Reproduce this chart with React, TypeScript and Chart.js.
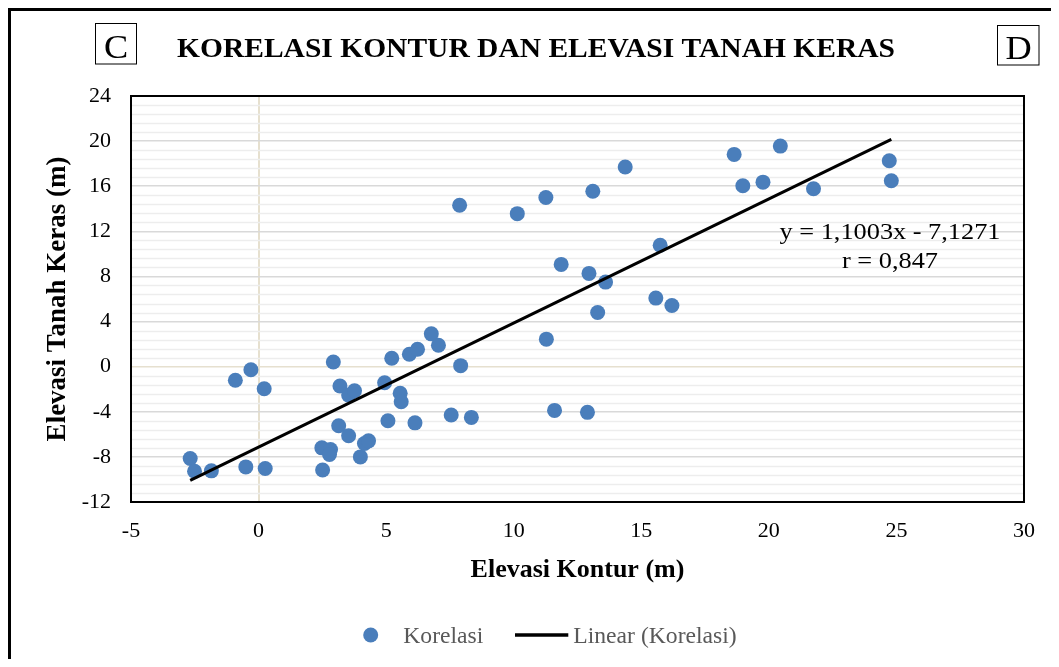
import React, { useEffect, useRef } from "react";
import { Chart, registerables } from "chart.js";

Chart.register(...registerables);

// ---- Data ----
const elevasiKontur = [
  -2.68, -2.51, -1.85, -0.91, -0.3, 0.22, -0.5, 0.26, 2.93, 3.19,
  3.53, 3.76, 3.14, 3.53, 2.48, 2.82, 2.78, 2.51, 4.15, 4.31,
  3.99, 4.94, 5.22, 5.55, 5.59, 5.07, 6.13, 5.91, 6.23, 6.77,
  7.05, 7.55, 8.34, 7.92, 7.88, 10.14, 11.26, 13.1, 14.37, 11.28,
  11.86, 12.95, 13.6, 13.29, 11.6, 12.89, 15.74, 15.57, 16.2, 18.64,
  20.45, 18.98, 19.77, 21.75, 24.72, 24.8,
];
const elevasiTanahKeras = [
  -8.14, -9.27, -9.24, -1.21, -0.27, -1.96, -8.89, -9.03, 0.42, -1.72,
  -2.52, -2.13, -5.24, -6.13, -7.2, -7.34, -7.79, -9.16, -6.81, -6.58,
  -8.0, -1.42, 0.75, -2.36, -3.11, -4.8, -4.98, 1.1, 1.55, 2.91,
  1.9, -4.29, -4.5, 0.09, 14.31, 13.57, 15.0, 15.56, 17.71, 2.44,
  9.07, 8.27, 7.5, 4.8, -3.88, -4.05, 10.77, 6.08, 5.42, 18.82,
  19.56, 16.04, 16.36, 15.77, 18.26, 16.48,
];

const xAxisRange = [-5, 30];
const xAxisStep = 5;
const yAxisRange = [-12, 24];
const yAxisStep = 4;
const yMinorStep = 0.8;

const trendSlope = 1.1003;
const trendIntercept = -7.1271;
const correlationR = 0.847;

const chartTitle = "KORELASI KONTUR DAN ELEVASI TANAH KERAS";
const panelLeft = "C";
const panelRight = "D";
const xAxisTitle = "Elevasi Kontur (m)";
const yAxisTitle = "Elevasi Tanah Keras (m)";
const seriesLabel = "Korelasi";
const trendLabel = "Linear (Korelasi)";

const SERIF = '"Liberation Serif", "Times New Roman", serif';
const POINT_COLOR = "#4a7ebb";
const ZERO_LINE = "#e6e0cf";

const fmt = (v: number, d: number) => v.toFixed(d).replace(".", ",");

function drawText(
  ctx: CanvasRenderingContext2D,
  text: string,
  x: number,
  baseline: number,
  font: string,
  color: string,
  align: CanvasTextAlign,
  targetWidth?: number,
  scaleX?: number
) {
  ctx.save();
  ctx.font = font;
  ctx.fillStyle = color;
  ctx.textBaseline = "alphabetic";
  ctx.textAlign = align;
  const w = ctx.measureText(text).width;
  const sx = targetWidth ? targetWidth / w : scaleX ?? 1;
  ctx.translate(x, baseline);
  ctx.scale(sx, 1);
  ctx.fillText(text, 0, 0);
  ctx.restore();
  return sx;
}

const decorPlugin = {
  id: "decor",
  beforeDatasetsDraw(chart: any) {
    const { ctx, chartArea } = chart;
    const yScale = chart.scales.y;
    ctx.save();
    ctx.strokeStyle = "#ededed";
    ctx.lineWidth = 1.5;
    const n = Math.round((yAxisRange[1] - yAxisRange[0]) / yMinorStep);
    for (let i = 1; i < n; i++) {
      const v = yAxisRange[0] + i * yMinorStep;
      if (Math.abs(v / yAxisStep - Math.round(v / yAxisStep)) < 1e-6) continue;
      const py = Math.round(yScale.getPixelForValue(v)) + 0.5;
      ctx.beginPath();
      ctx.moveTo(chartArea.left, py);
      ctx.lineTo(chartArea.right, py);
      ctx.stroke();
    }
    ctx.restore();
  },
  afterDraw(chart: any) {
    const { ctx, chartArea } = chart;
    // plot border
    ctx.save();
    ctx.strokeStyle = "#000";
    ctx.lineWidth = 2;
    ctx.strokeRect(
      chartArea.left,
      chartArea.top,
      chartArea.right - chartArea.left,
      chartArea.bottom - chartArea.top
    );
    ctx.restore();

    // title
    drawText(ctx, chartTitle, 525, 45.7, `bold 28px ${SERIF}`, "#000", "center", 718);

    // panel letters in boxes
    ctx.save();
    ctx.strokeStyle = "#000";
    ctx.lineWidth = 1;
    ctx.strokeRect(84.5, 12.5, 41, 40.5);
    ctx.strokeRect(986.5, 14.5, 41.5, 39.5);
    ctx.restore();
    drawText(ctx, panelLeft, 105, 47, `33px ${SERIF}`, "#000", "center", undefined, 1.1);
    drawText(ctx, panelRight, 1007.5, 48, `33px ${SERIF}`, "#000", "center", undefined, 1.1);

    // trendline equation
    const eq = `y = ${fmt(trendSlope, 4)}x ${trendIntercept < 0 ? "-" : "+"} ${fmt(
      Math.abs(trendIntercept),
      4
    )}`;
    const sx = drawText(ctx, eq, 879, 228, `24px ${SERIF}`, "#000", "center", 221);
    drawText(ctx, `r = ${fmt(correlationR, 3)}`, 879, 257.3, `24px ${SERIF}`, "#000", "center", undefined, sx);

    // legend
    const ds0 = chart.data.datasets[1];
    const ds1 = chart.data.datasets[0];
    ctx.save();
    ctx.fillStyle = ds0.backgroundColor;
    ctx.beginPath();
    ctx.arc(359.7, 624, 7.5, 0, Math.PI * 2);
    ctx.fill();
    ctx.strokeStyle = ds1.borderColor;
    ctx.lineWidth = 3.5;
    ctx.beginPath();
    ctx.moveTo(504, 624);
    ctx.lineTo(557.3, 624);
    ctx.stroke();
    ctx.restore();
    drawText(ctx, ds0.label, 392.3, 632.3, `23px ${SERIF}`, "#595959", "left", 80);
    drawText(ctx, ds1.label, 562.3, 632.3, `23px ${SERIF}`, "#595959", "left", 163.4);
  },
};

export default function App() {
  const canvasRef = useRef<HTMLCanvasElement | null>(null);

  useEffect(() => {
    if (!canvasRef.current) return;
    const points = elevasiKontur.map((x, i) => ({ x, y: elevasiTanahKeras[i] }));
    const xLo = Math.min(...elevasiKontur);
    const xHi = Math.max(...elevasiKontur);
    const trend = [
      { x: xLo, y: trendSlope * xLo + trendIntercept },
      { x: xHi, y: trendSlope * xHi + trendIntercept },
    ];

    const chart = new Chart(canvasRef.current, {
      type: "scatter",
      data: {
        datasets: [
          {
            label: trendLabel,
            data: trend,
            showLine: true,
            borderColor: "#000",
            borderWidth: 3,
            pointRadius: 0,
            pointHoverRadius: 0,
            order: 0,
          } as any,
          {
            label: seriesLabel,
            data: points,
            backgroundColor: POINT_COLOR,
            borderColor: POINT_COLOR,
            borderWidth: 0,
            pointRadius: 7.5,
            pointHoverRadius: 7.5,
            order: 1,
          },
        ],
      },
      options: {
        responsive: false,
        animation: false,
        layout: { padding: { top: 85, right: 26, left: 0, bottom: 0 } },
        plugins: {
          legend: { display: false },
          title: { display: false },
          tooltip: { enabled: false },
        },
        scales: {
          x: {
            type: "linear",
            min: xAxisRange[0],
            max: xAxisRange[1],
            afterFit: (s: any) => {
              s.height = 157;
            },
            ticks: {
              stepSize: xAxisStep,
              color: "#000",
              padding: 16,
              font: { family: SERIF, size: 22 },
            },
            grid: {
              drawTicks: false,
              lineWidth: 2,
              color: (c: any) => (c.tick && c.tick.value === 0 ? ZERO_LINE : "rgba(0,0,0,0)"),
            },
            border: { display: false },
            title: {
              display: true,
              text: xAxisTitle,
              color: "#000",
              font: { family: SERIF, size: 26, weight: "bold" },
              padding: { top: 0, bottom: 73 },
            },
          },
          y: {
            type: "linear",
            min: yAxisRange[0],
            max: yAxisRange[1],
            afterFit: (s: any) => {
              s.width = 120;
            },
            ticks: {
              stepSize: yAxisStep,
              color: "#000",
              padding: 20,
              font: { family: SERIF, size: 22 },
            },
            grid: {
              drawTicks: false,
              lineWidth: 1.5,
              color: (c: any) => (c.tick && c.tick.value === 0 ? ZERO_LINE : "#d9d9d9"),
            },
            border: { display: false },
            title: {
              display: true,
              text: yAxisTitle,
              color: "#000",
              font: { family: SERIF, size: 27, weight: "bold" },
              padding: { top: 31, bottom: 0 },
            },
          },
        },
      },
      plugins: [decorPlugin],
    });
    return () => chart.destroy();
  }, []);

  return (
    <div
      style={{
        width: 1040,
        height: 648,
        borderLeft: "3px solid #000",
        borderTop: "3px solid #000",
        background: "#fff",
      }}
    >
      <canvas ref={canvasRef} width={1040} height={648} style={{ display: "block" }} />
    </div>
  );
}
